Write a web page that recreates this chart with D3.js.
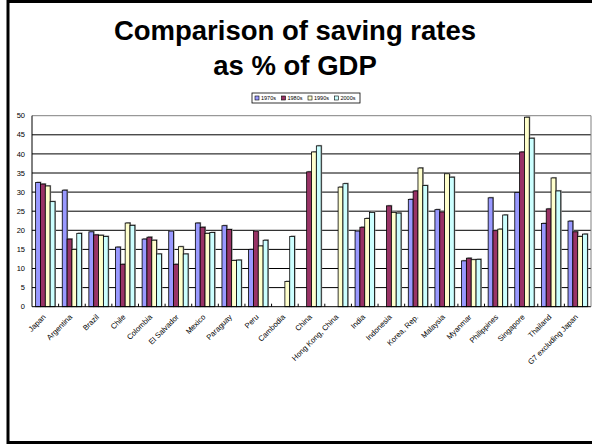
<!DOCTYPE html>
<html>
<head>
<meta charset="utf-8">
<script src="https://cdn.jsdelivr.net/npm/d3@7"></script>
<style>
  body { margin: 0; background: #fff; }
  svg { display: block; font-family: "Liberation Sans", Arial, sans-serif; }
</style>
</head>
<body>
<div id="chart"></div>
<script>
const countries = ["Japan", "Argentina", "Brazil", "Chile", "Colombia", "El Salvador", "Mexico",
  "Paraguay", "Peru", "Cambodia", "China", "Hong Kong, China", "India", "Indonesia", "Korea, Rep.",
  "Malaysia", "Myanmar", "Philippines", "Singapore", "Thailand", "G7 excluding Japan"];
const decades = ["1970s", "1980s", "1990s", "2000s"];

const s1970 = [32.5, 30.5, 19.6, 15.6, 17.7, 19.8, 21.9, 21.2, 15.0, null, null, null, 19.8, null, 28.1, 25.4, 12.0, 28.5, 29.9, 21.8, 22.4];
const s1980 = [32.1, 17.7, 18.8, 11.1, 18.2, 11.1, 20.8, 20.2, 19.8, null, 35.3, null, 20.8, 26.4, 30.3, 24.8, 12.7, 19.9, 40.5, 25.6, 19.6];
const s1990 = [31.6, 15.0, 18.7, 21.9, 17.4, 15.7, 19.2, 12.1, 15.9, 6.6, 40.5, 31.3, 23.1, 24.7, 36.3, 34.8, 12.3, 20.3, 49.6, 33.7, 18.4];
const s2000 = [27.5, 19.2, 18.4, 21.3, 13.8, 13.8, 19.4, 12.2, 17.4, 18.4, 42.1, 32.2, 24.7, 24.5, 31.7, 33.9, 12.4, 24.0, 44.1, 30.3, 19.0];
const yTicks = [0, 5, 10, 15, 20, 25, 30, 35, 40, 45, 50];

const colors = ["#9999ff", "#993366", "#ffffcc", "#ccffff"];
const seriesValues = [s1970, s1980, s1990, s2000];

const width = 592, height = 445;
const plotLeft = 32, plotRight = 591, plotTop = 115.7, plotBottom = 306.7;

const svg = d3.select("#chart").append("svg")
  .attr("width", width)
  .attr("height", height);

// outer frame
svg.append("rect")
  .attr("x", 8).attr("y", 1.5)
  .attr("width", 620).attr("height", 441)
  .attr("fill", "#fff")
  .attr("stroke", "#000")
  .attr("stroke-width", 3);

// title
svg.append("text")
  .attr("x", 295).attr("y", 40)
  .attr("text-anchor", "middle")
  .attr("font-weight", "bold")
  .attr("font-size", 27.5)
  .text("Comparison of saving rates");
svg.append("text")
  .attr("x", 295).attr("y", 75)
  .attr("text-anchor", "middle")
  .attr("font-weight", "bold")
  .attr("font-size", 27.5)
  .text("as % of GDP");

const x0 = d3.scaleBand().domain(countries).range([plotLeft, plotRight]).padding(0);
const x1 = d3.scaleBand().domain(decades).range([0, x0.bandwidth()])
  .paddingInner(0).paddingOuter(0.75);
const y = d3.scaleLinear().domain([0, 50]).range([plotBottom, plotTop]);

// gridlines
svg.append("g")
  .selectAll("line")
  .data(yTicks.filter(d => d > 0))
  .join("line")
  .attr("x1", plotLeft).attr("x2", plotRight)
  .attr("y1", d => y(d)).attr("y2", d => y(d))
  .attr("stroke", d => d === 50 ? "#808080" : "#000")
  .attr("stroke-width", 1);

// y labels
svg.append("g")
  .selectAll("text")
  .data(yTicks)
  .join("text")
  .attr("x", 25).attr("y", d => y(d))
  .attr("dy", "0.35em")
  .attr("text-anchor", "end")
  .attr("font-size", 7.5)
  .text(d => d);

// bars
const groups = svg.append("g")
  .selectAll("g")
  .data(countries)
  .join("g")
  .attr("transform", d => `translate(${x0(d)},0)`);

groups.selectAll("g.bar")
  .data((c, i) => decades.map((dec, k) => ({ dec, k, v: seriesValues[k][i] })).filter(d => d.v != null))
  .join("g")
  .attr("class", "bar")
  .each(function(d) {
    const g = d3.select(this);
    g.append("rect")
      .attr("x", x1(d.dec) + 1)
      .attr("y", y(d.v) - 1)
      .attr("width", x1.bandwidth())
      .attr("height", plotBottom - y(d.v) + 1)
      .attr("fill", "#999");
    g.append("rect")
      .attr("x", x1(d.dec))
      .attr("y", y(d.v))
      .attr("width", x1.bandwidth())
      .attr("height", plotBottom - y(d.v))
      .attr("fill", colors[d.k])
      .attr("stroke", "#000")
      .attr("stroke-width", 0.8);
  });

// axes lines
svg.append("line")
  .attr("x1", plotLeft).attr("x2", plotRight)
  .attr("y1", plotBottom).attr("y2", plotBottom)
  .attr("stroke", "#000");
svg.append("line")
  .attr("x1", plotLeft).attr("x2", plotLeft)
  .attr("y1", plotTop).attr("y2", plotBottom)
  .attr("stroke", "#000");
svg.append("line")
  .attr("x1", plotRight).attr("x2", plotRight)
  .attr("y1", plotTop).attr("y2", plotBottom)
  .attr("stroke", "#808080");

// category ticks
svg.append("g")
  .selectAll("line")
  .data(countries.slice(1))
  .join("line")
  .attr("x1", d => x0(d)).attr("x2", d => x0(d))
  .attr("y1", plotBottom - 3).attr("y2", plotBottom)
  .attr("stroke", "#000");

// x labels
svg.append("g")
  .selectAll("text")
  .data(countries)
  .join("text")
  .attr("transform", d => `translate(${x0(d) + x0.bandwidth() / 2 - 1},${plotBottom + 9}) rotate(-45)`)
  .attr("text-anchor", "end")
  .attr("dy", "0.35em")
  .attr("font-size", 7.6)
  .text(d => d);

// legend
const legend = svg.append("g");
legend.append("rect")
  .attr("x", 252).attr("y", 93)
  .attr("width", 108).attr("height", 10)
  .attr("fill", "#fff")
  .attr("stroke", "#000")
  .attr("stroke-width", 0.8);
const items = legend.selectAll("g")
  .data(decades)
  .join("g")
  .attr("transform", (d, i) => `translate(${255 + i * 26.5},98)`);
items.append("rect")
  .attr("x", 0).attr("y", -2)
  .attr("width", 4).attr("height", 4)
  .attr("fill", (d, i) => colors[i])
  .attr("stroke", "#000")
  .attr("stroke-width", 0.6);
items.append("text")
  .attr("x", 6).attr("y", 0)
  .attr("dy", "0.35em")
  .attr("font-size", 5.5)
  .text(d => d);
</script>
</body>
</html>
